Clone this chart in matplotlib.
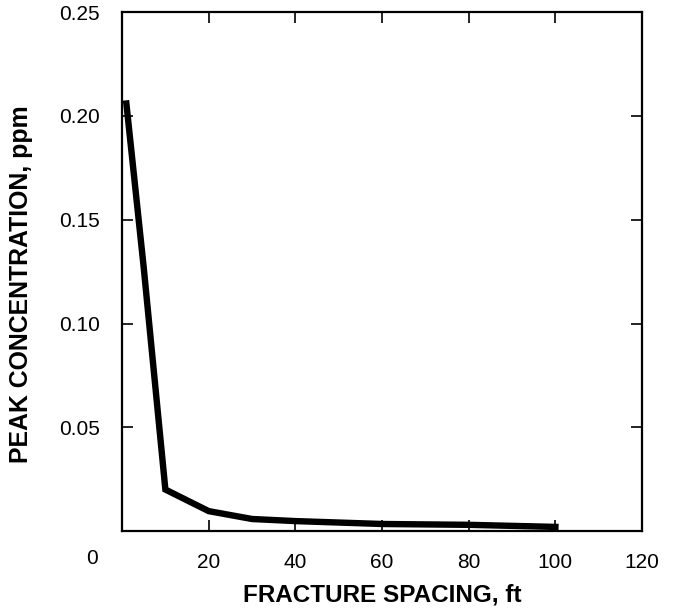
import matplotlib
matplotlib.use("Agg")
import matplotlib.pyplot as plt

# Values
spacing_ft = [1, 5, 10, 20, 30, 40, 60, 80, 100]
peak_ppm = [0.206, 0.127, 0.020, 0.0096, 0.0058, 0.0048, 0.0034, 0.003, 0.002]

x_ticks = [0, 20, 40, 60, 80, 100, 120]
x_labels = ["", "20", "40", "60", "80", "100", "120"]
y_ticks = [0, 0.05, 0.10, 0.15, 0.20, 0.25]
y_labels = ["", "0.05", "0.10", "0.15", "0.20", "0.25"]

plt.rcParams['font.family'] = ['Liberation Sans', 'DejaVu Sans']

fig = plt.figure(figsize=(6.78, 6.09), dpi=100)
ax = fig.add_axes([0.180, 0.128, 0.767, 0.852])

ax.plot(spacing_ft, peak_ppm, color='black', linewidth=4.6, solid_joinstyle='miter')

ax.set_xlim(0, 120)
ax.set_ylim(0, 0.25)
ax.set_xticks(x_ticks)
ax.set_xticklabels(x_labels)
ax.set_yticks(y_ticks)
ax.set_yticklabels(y_labels)

ax.tick_params(direction='in', length=8, width=1.2, labelsize=15, pad=16,
               top=True, right=True)
for s in ax.spines.values():
    s.set_linewidth(1.6)

# origin label sits off to the left under the axis
ax.text(-7, -0.0085, "0", fontsize=15, ha='center', va='top',
        transform=ax.transData, clip_on=False)

ax.set_xlabel("FRACTURE SPACING, ft", fontsize=17.5, fontweight='bold', labelpad=8)
ax.set_ylabel("PEAK CONCENTRATION, ppm", fontsize=17.9, fontweight='bold')
ax.yaxis.set_label_coords(-0.171, 0.476)

fig.savefig("out.png", dpi=100)
